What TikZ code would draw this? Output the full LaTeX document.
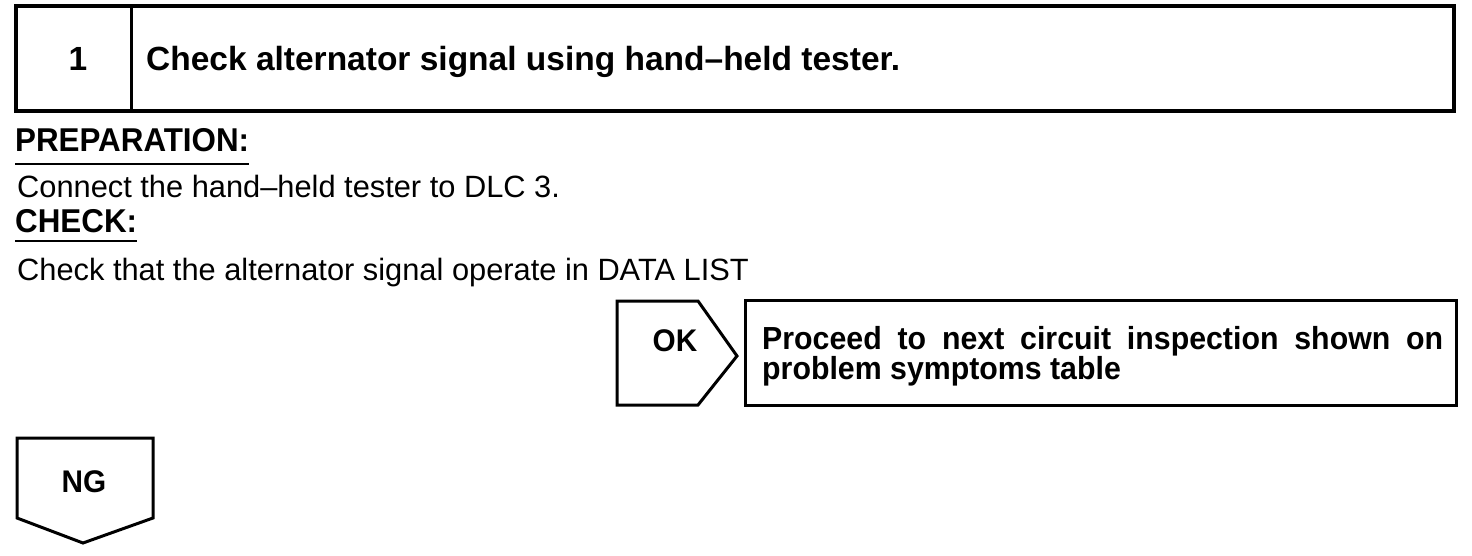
\documentclass[tikz,border=0pt]{standalone}
\usepackage{fontspec}
\setmainfont{Liberation Sans}
\newfontfamily\condsans[FakeStretch=0.95]{Liberation Sans}
\begin{document}
\begin{tikzpicture}[x=1pt,y=-1pt,line join=miter,
  frame/.style={draw=black,line width=3pt},
  thick frame/.style={draw=black,line width=4pt},
  uline/.style={draw=black,line width=2pt},
  lbl/.style={inner sep=0pt,anchor=base west},
  bighead/.style={font=\fontsize{33.5}{36}\selectfont\bfseries},
  head/.style={font=\fontsize{33}{36}\condsans\bfseries},
  tag/.style={font=\fontsize{31.3}{36}\condsans\bfseries,inner sep=0pt,anchor=base},
  body/.style={font=\fontsize{30.8}{32}\selectfont}]
\useasboundingbox (0,0) rectangle (1472,556);
% title box
\draw[thick frame] (16,6) rectangle (1454,111);
\draw[frame] (131,6) -- (131,111);
\node[bighead,inner sep=0pt,anchor=base] (num) at (78,71) {1};
\node[bighead,lbl] (title) at (146,71) {Check alternator signal using hand–held tester.};
% preparation / check
\node[head,lbl] (prep) at (15,152) {PREPARATION:};
\draw[uline] ([yshift=-11pt]prep.south west) -- ([yshift=-11pt]prep.south east);
\node[body,lbl] (conn) at (17,197) {Connect the hand–held tester to DLC 3.};
\node[head,lbl] (chk) at (15,233) {CHECK:};
\draw[uline] ([yshift=-7pt]chk.south west) -- ([yshift=-7pt]chk.south east);
\node[body,lbl] (chktxt) at (17,280) {Check that the alternator signal operate in DATA LIST};
% OK branch
\draw[frame] (617,301) -- (698,301) -- (737,356) -- (698,405) -- (617,405) -- cycle;
\node[tag] (ok) at (675,351) {OK};
\draw[frame] (745,300) rectangle (1456,405);
\node[inner sep=0pt,anchor=base west,text width=681pt,align=justify,
  font=\fontsize{31.9}{29}\condsans\bfseries] (proc) at (762,349)
  {Proceed to next circuit inspection shown on problem symptoms table};
% NG branch
\draw[frame] (17,438) -- (153,438) -- (153,518) -- (83,543) -- (17,518) -- cycle;
\node[tag] (ng) at (84,492) {NG};
\end{tikzpicture}
\end{document}
